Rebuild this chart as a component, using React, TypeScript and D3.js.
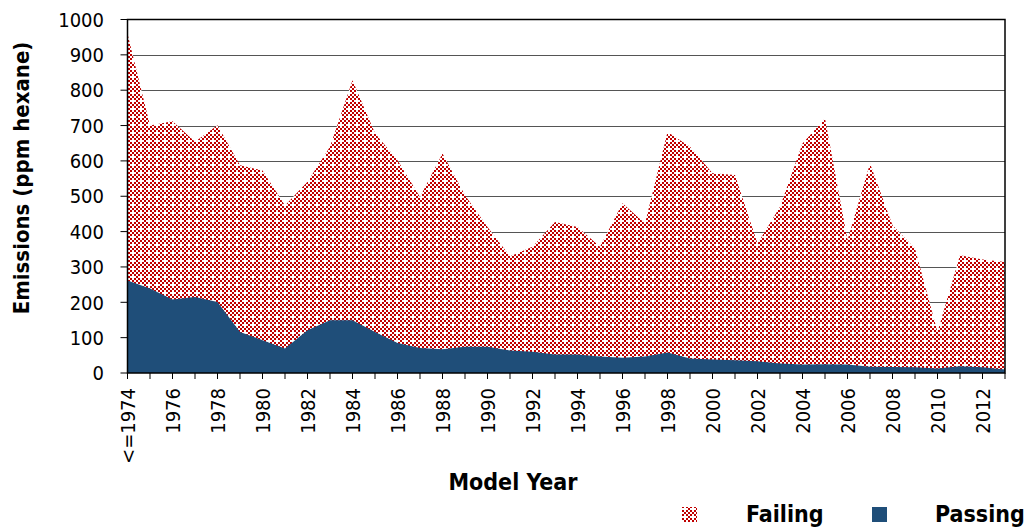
import { useEffect, useRef } from 'react';
import * as d3 from 'd3';

const years = ['<=1974', '1975', '1976', '1977', '1978', '1979', '1980', '1981', '1982', '1983',
  '1984', '1985', '1986', '1987', '1988', '1989', '1990', '1991', '1992', '1993',
  '1994', '1995', '1996', '1997', '1998', '1999', '2000', '2001', '2002', '2003',
  '2004', '2005', '2006', '2007', '2008', '2009', '2010', '2011', '2012', '2013'];

const failing = [960, 700, 712, 654, 701, 588, 573, 474, 541, 640,
  828, 678, 602, 498, 621, 503, 413, 330, 357, 427,
  413, 357, 480, 423, 682, 640, 565, 560, 366, 470,
  649, 720, 376, 593, 418, 352, 116, 333, 321, 314];

const passing = [262, 239, 208, 215, 201, 116, 93, 69, 121, 149,
  149, 116, 85, 71, 67, 74, 74, 64, 60, 52,
  52, 47, 43, 47, 58, 41, 38, 36, 33, 27,
  24, 25, 24, 18, 17, 16, 13, 19, 16, 10];

const yTicks = [0, 100, 200, 300, 400, 500, 600, 700, 800, 900, 1000];

const FONT = '"DejaVu Sans Condensed", "DejaVu Sans", sans-serif';

export default function App() {
  const svgRef = useRef<SVGSVGElement>(null);

  useEffect(() => {
    const width = 1026;
    const height = 531;
    const left = 127.5, right = 1005, top = 19.5, bottom = 373;

    const svg = d3.select(svgRef.current)
      .attr('width', width)
      .attr('height', height)
      .style('font-family', FONT)
      .style('font-stretch', 'condensed');
    svg.selectAll('*').remove();

    // checker fill used by the failing series
    const pat = svg.append('defs').append('pattern')
      .attr('id', 'failPat')
      .attr('patternUnits', 'userSpaceOnUse')
      .attr('width', 8)
      .attr('height', 8);
    pat.append('rect').attr('width', 8).attr('height', 8).attr('fill', '#fff');
    const cells: [number, number][] = [];
    for (let cy = 0; cy < 8; cy += 2) {
      for (let cx = 0; cx < 8; cx += 2) {
        if (((cx + cy) / 2) % 2 === 0 && !(cx === 4 && cy === 4)) cells.push([cx, cy]);
      }
    }
    pat.selectAll('rect.c')
      .data(cells)
      .enter()
      .append('rect')
      .attr('class', 'c')
      .attr('x', d => d[0])
      .attr('y', d => d[1])
      .attr('width', 2)
      .attr('height', 2)
      .attr('fill', '#c00000');

    const x = d3.scalePoint<string>().domain(years).range([left, right]);
    const y = d3.scaleLinear().domain([0, 1000]).range([bottom, top]);

    // gridlines
    svg.append('g')
      .selectAll('line')
      .data(yTicks.filter(t => t > 0 && t < 1000))
      .enter()
      .append('line')
      .attr('x1', left)
      .attr('x2', right)
      .attr('y1', d => Math.round(y(d)) + 0.5)
      .attr('y2', d => Math.round(y(d)) + 0.5)
      .attr('stroke', '#555')
      .attr('stroke-width', 1.2);

    const area = d3.area<number>()
      .x((_, i) => x(years[i]) as number)
      .y0(y(0))
      .y1(d => y(d));

    svg.append('path')
      .datum(failing)
      .attr('d', area)
      .attr('fill', 'url(#failPat)');

    svg.append('path')
      .datum(passing)
      .attr('d', area)
      .attr('fill', '#1f4e79');

    // frame
    svg.append('rect')
      .attr('x', left)
      .attr('y', top)
      .attr('width', right - left)
      .attr('height', bottom - top)
      .attr('fill', 'none')
      .attr('stroke', '#000')
      .attr('stroke-width', 1.5);

    // y axis ticks + labels
    const yg = svg.append('g');
    yg.selectAll('line')
      .data(yTicks)
      .enter()
      .append('line')
      .attr('x1', left - 7)
      .attr('x2', left)
      .attr('y1', d => y(d))
      .attr('y2', d => y(d))
      .attr('stroke', '#000');
    yg.selectAll('text')
      .data(yTicks)
      .enter()
      .append('text')
      .attr('x', 104)
      .attr('y', d => y(d))
      .attr('dy', '0.36em')
      .attr('text-anchor', 'end')
      .attr('font-size', 20)
      .text(d => d);

    // x axis ticks + labels
    const xg = svg.append('g');
    xg.selectAll('line')
      .data(years)
      .enter()
      .append('line')
      .attr('x1', d => x(d) as number)
      .attr('x2', d => x(d) as number)
      .attr('y1', bottom)
      .attr('y2', bottom + 6)
      .attr('stroke', '#000');
    xg.selectAll('text')
      .data(years.filter((_, i) => i % 2 === 0))
      .enter()
      .append('text')
      .attr('transform', d => `translate(${x(d)},388) rotate(-90)`)
      .attr('dy', '0.36em')
      .attr('text-anchor', 'end')
      .attr('font-size', 20)
      .text(d => d);

    // axis titles
    svg.append('text')
      .attr('x', 513)
      .attr('y', 490)
      .attr('text-anchor', 'middle')
      .attr('font-size', 23)
      .attr('font-weight', 'bold')
      .text('Model Year');

    svg.append('text')
      .attr('transform', 'translate(29,178) rotate(-90)')
      .attr('text-anchor', 'middle')
      .attr('font-size', 22)
      .attr('font-weight', 'bold')
      .text('Emissions (ppm hexane)');

    // legend
    const legend = [
      { label: 'Failing', fill: 'url(#failPat)', sx: 682, tx: 746 },
      { label: 'Passing', fill: '#1f4e79', sx: 872, tx: 935 },
    ];
    const lg = svg.append('g');
    lg.selectAll('rect')
      .data(legend)
      .enter()
      .append('rect')
      .attr('x', d => d.sx)
      .attr('y', 507)
      .attr('width', 15)
      .attr('height', 15)
      .attr('fill', d => d.fill);
    lg.selectAll('text')
      .data(legend)
      .enter()
      .append('text')
      .attr('x', d => d.tx)
      .attr('y', 522)
      .attr('font-size', 23)
      .attr('font-weight', 'bold')
      .text(d => d.label);
  }, []);

  return (
    <div style={{ position: 'absolute', left: 0, top: 0 }}>
      <svg ref={svgRef}></svg>
    </div>
  );
}
